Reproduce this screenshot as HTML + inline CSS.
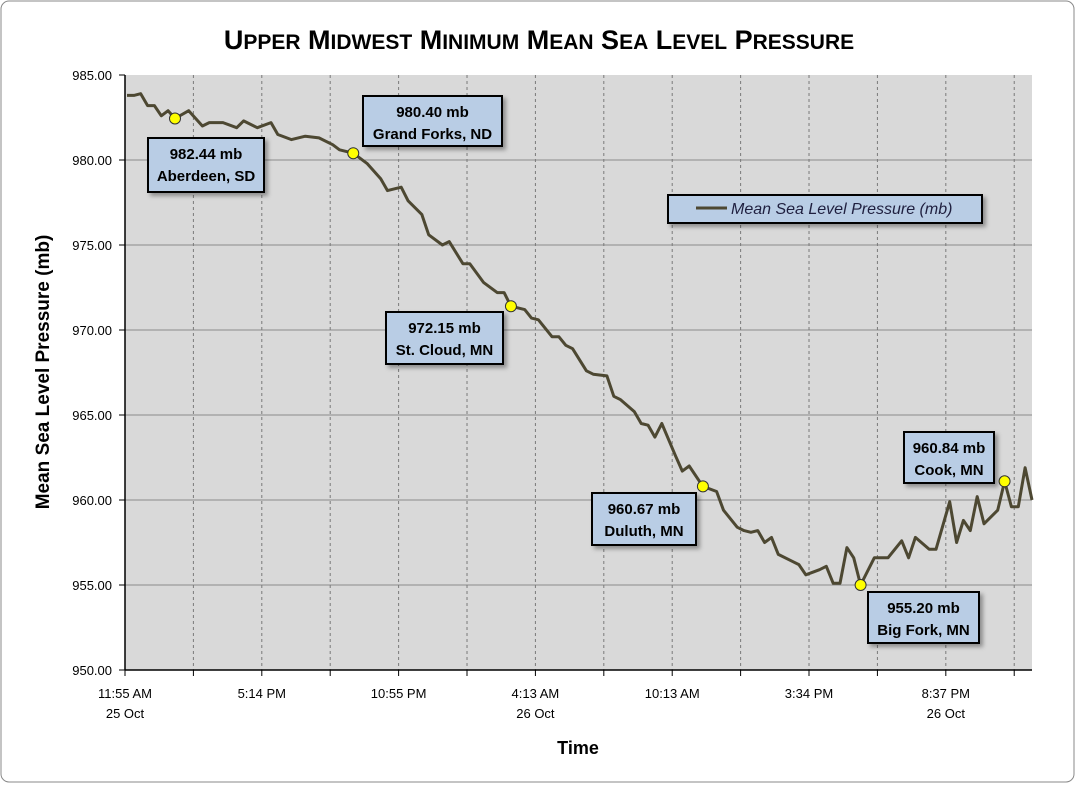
<!DOCTYPE html>
<html><head><meta charset="utf-8"><style>
body{margin:0;background:#fff;}
svg text{font-family:"Liberation Sans",sans-serif;}
</style></head><body>
<svg id="chart" width="1076" height="784" xmlns="http://www.w3.org/2000/svg">
<defs><filter id="sh" x="-10%" y="-10%" width="130%" height="140%"><feDropShadow dx="3" dy="3" stdDeviation="2" flood-color="#000" flood-opacity="0.35"/></filter></defs>
<rect x="1" y="1" width="1073" height="781" rx="8" fill="#fff" stroke="#888"/>
<text x="539" y="49" text-anchor="middle" font-size="27" font-weight="bold">U<tspan font-size="21">PPER</tspan> M<tspan font-size="21">IDWEST</tspan> M<tspan font-size="21">INIMUM</tspan> M<tspan font-size="21">EAN</tspan> S<tspan font-size="21">EA</tspan> L<tspan font-size="21">EVEL</tspan> P<tspan font-size="21">RESSURE</tspan></text>
<rect x="125" y="75" width="907" height="595" fill="#d9d9d9"/>
<g id="grid"></g>
<g id="axes"></g>
<path id="line" fill="none" stroke="#4d4832" stroke-width="3" stroke-linejoin="round"/>
<g id="dots"></g>
<g id="notes"></g>
<g filter="url(#sh)">
<rect x="668" y="195" width="314" height="28" fill="#b9cde5" stroke="#000" stroke-width="2"/>
</g>
<line x1="696" y1="208" x2="727" y2="208" stroke="#4d4832" stroke-width="3"/>
<text x="731" y="214" font-size="16" font-style="italic" fill="#1f1f3f">Mean Sea Level Pressure (mb)</text>
<text transform="translate(49,372) rotate(-90)" text-anchor="middle" font-size="19" font-weight="bold">Mean Sea Level Pressure (mb)</text>
<text x="578" y="754" text-anchor="middle" font-size="18" font-weight="bold">Time</text>
</svg>
<script>
const idx=[0,1,2,3,4,5,6,7,9,11,12,14,16,17,19,21,22,24,26,28,30,31,33,35,37,38,40,41,43,44,46,47,49,50,52,54,55,56,58,59,60,62,63,64,65,67,68,70,71,72,74,75,76,77,78,80,81,82,84,86,87,89,90,91,92,93,94,95,97,98,99,101,102,103,104,105,106,107,109,110,111,113,114,115,117,118,120,121,122,123,124,125,127,128,129,130,131,132];
const values=[983.8,983.8,983.9,983.2,983.2,982.6,982.9,982.44,982.9,982.0,982.2,982.2,981.9,982.3,981.9,982.2,981.5,981.2,981.4,981.3,980.9,980.6,980.4,979.8,978.9,978.2,978.4,977.6,976.8,975.6,975.0,975.2,973.9,973.9,972.8,972.2,972.2,971.4,971.2,970.7,970.6,969.6,969.6,969.1,968.9,967.6,967.4,967.3,966.1,965.9,965.2,964.5,964.4,963.7,964.5,962.6,961.7,962.0,960.8,960.5,959.4,958.4,958.2,958.1,958.2,957.5,957.8,956.8,956.4,956.2,955.6,955.9,956.1,955.1,955.1,957.2,956.6,955.0,956.6,956.6,956.6,957.6,956.6,957.8,957.1,957.1,959.9,957.5,958.8,958.2,960.2,958.6,959.4,961.1,959.6,959.6,961.9,960.0];
const yTicks=[950,955,960,965,970,975,980,985];
const xTickLabels=[["11:55 AM","25 Oct"],["5:14 PM",""],["10:55 PM",""],["4:13 AM","26 Oct"],["10:13 AM",""],["3:34 PM",""],["8:37 PM","26 Oct"]];
const notePoints=[7,33,56,84,107,128];
const noteText=[["982.44 mb","Aberdeen, SD"],["980.40 mb","Grand Forks, ND"],["972.15 mb","St. Cloud, MN"],["960.67 mb","Duluth, MN"],["955.20 mb","Big Fork, MN"],["960.84 mb","Cook, MN"]];
const noteBox=[[148,138,116,54],[363,96,139,50],[386,312,117,52],[592,493,104,52],[868,592,111,51],[904,432,90,51]];
const N=133,X0=125,X1=1032,Y0=670,Y1=75;
const xs=i=>127+i*(X1-127)/(N-1);
const ys=v=>Y0-(v-950)/35*(Y0-Y1);
const NS="http://www.w3.org/2000/svg";
function mk(t,a,p){const e=document.createElementNS(NS,t);for(const k in a)e.setAttribute(k,a[k]);p.appendChild(e);return e;}
const grid=document.getElementById('grid'),axes=document.getElementById('axes');
yTicks.forEach(v=>{
 if(v>950&&v<985){const l=mk('line',{x1:X0,x2:X1,y1:ys(v),y2:ys(v),stroke:'#8c8c8c','stroke-width':1},grid);
 
 }
 const t=mk('text',{x:112,y:ys(v)+5,'text-anchor':'end','font-size':13},axes);t.textContent=v.toFixed(2);
 
 
 mk('line',{x1:X0-6,x2:X0,y1:ys(v),y2:ys(v),stroke:'#000'},axes);
});
const step=(X1-X0)/13.26;
for(let k=0;k<=13;k++){const x=X0+k*step;
 if(k>0){const g=mk('line',{x1:x,x2:x,y1:Y1,y2:Y0,stroke:'#7a7a7a','stroke-dasharray':'3,3'},grid);
 
 }
 mk('line',{x1:x,x2:x,y1:Y0,y2:Y0+6,stroke:'#000'},axes);
 if(k%2===0&&xTickLabels[k/2]){const lb=xTickLabels[k/2];
  const t=mk('text',{x:x,y:698,'text-anchor':'middle','font-size':13},axes);t.textContent=lb[0];
  
  
  if(lb[1]){const t2=mk('text',{x:x,y:718,'text-anchor':'middle','font-size':13},axes);t2.textContent=lb[1];
  
  }}
}
mk('line',{x1:X0,x2:X0,y1:Y1,y2:Y0,stroke:'#000','stroke-width':1.5},axes);
mk('line',{x1:X0,x2:X1,y1:Y0,y2:Y0,stroke:'#000','stroke-width':1.5},axes);
document.getElementById('line').setAttribute('d',idx.map((i,j)=>(j?'L':'M')+xs(i).toFixed(1)+','+ys(values[j]).toFixed(1)).join(''));
const dots=document.getElementById('dots'),notes=document.getElementById('notes');
notePoints.forEach((i,n)=>{const j=idx.indexOf(i);
 const c=mk('circle',{cx:xs(i),cy:ys(values[j]),r:5.5,fill:'#ffff00',stroke:'#333','stroke-width':1},dots);
 
 
 const b=noteBox[n];
 const g=mk('g',{},notes);
 
 
 mk('rect',{x:b[0],y:b[1],width:b[2],height:b[3],fill:'#b9cde5',stroke:'#000','stroke-width':2,filter:'url(#sh)'},g);
 const t1=mk('text',{x:b[0]+b[2]/2,y:b[1]+21,'text-anchor':'middle','font-size':15,'font-weight':'bold'},g);t1.textContent=noteText[n][0];
 const t2=mk('text',{x:b[0]+b[2]/2,y:b[1]+43,'text-anchor':'middle','font-size':15,'font-weight':'bold'},g);t2.textContent=noteText[n][1];
});
</script>
</body></html>
